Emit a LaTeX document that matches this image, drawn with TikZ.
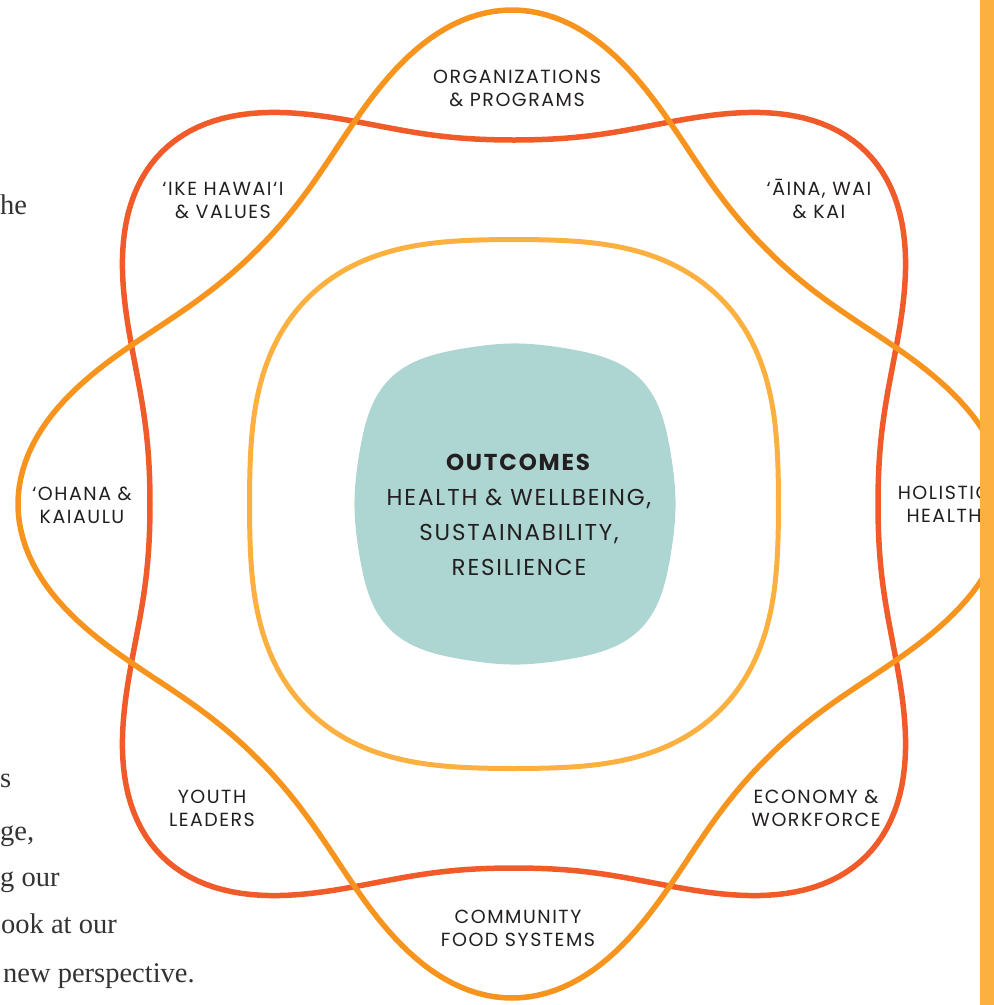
\documentclass[tikz,border=0pt]{standalone}
\usepackage{fontspec}
\setmainfont{Poppins}[LetterSpace=8]
\newfontfamily\bodyserif{Liberation Serif}
\definecolor{ink}{HTML}{231F20}
\definecolor{bodygray}{HTML}{333333}
\definecolor{redline}{HTML}{F15A29}
\definecolor{orangeline}{HTML}{F7941D}
\definecolor{innerline}{HTML}{FBB040}
\definecolor{tealfill}{HTML}{ADD5D2}
\definecolor{barcol}{HTML}{FBB040}
\tikzset{
  lbl/.style={font=\fontsize{19}{23}\selectfont, text=ink, align=center, anchor=base, inner sep=0pt},
  ctr/.style={font=\fontsize{23}{35}\selectfont, text=ink, align=center, anchor=base, inner sep=0pt},
  bodytxt/.style={font=\bodyserif\fontsize{28.5}{47}\selectfont, text=bodygray, anchor=base west, inner sep=0pt},
  ring/.style={line width=5.5pt, line join=round}
}
\begin{document}
\begin{tikzpicture}[x=1pt,y=-1pt]
\useasboundingbox (0,0) rectangle (994,1005);
\clip (0,0) rectangle (994,1005);
% centre teal shape
\fill[tealfill] plot[domain=0:360, samples=241]
  ({515+(167.4-8.25*cos(4*\x)+1.4*cos(8*\x))*cos(\x)},
   {504+(167.4-8.25*cos(4*\x)+1.4*cos(8*\x))*sin(\x)}) -- cycle;
% inner light orange ring
\draw[ring, innerline, line width=5pt] plot[domain=0:360, samples=241]
  ({514+(278-13.5*cos(4*\x))*cos(\x)},
   {504+(278-13.5*cos(4*\x))*sin(\x)}) -- cycle;
% red four-cornered loop
\draw[ring, redline] plot[domain=0:360, samples=361]
  ({514+(422.5-67*cos(4*\x)+8.5*cos(8*\x))*cos(\x)},
   {504+(422.5-67*cos(4*\x)+8.5*cos(8*\x))*sin(\x)}) -- cycle;
% orange four-petal loop
\draw[ring, orangeline] plot[domain=0:360, samples=361]
  ({512+(420+67*cos(4*\x)+7*cos(8*\x))*cos(\x)},
   {504+(420+67*cos(4*\x)+7*cos(8*\x))*sin(\x)}) -- cycle;
% labels (anchor = baseline of the last line)
\node[lbl] (org) at (517,106) {ORGANIZATIONS\\\& PROGRAMS};
\node[lbl] (ike) at (223,218) {‘IKE HAWAI‘I\\\& VALUES};
\node[lbl] (aina) at (819,218) {‘ĀINA, WAI\\\& KAI};
\node[lbl] (ohana) at (82,523) {‘OHANA \&\\KAIAULU};
\node[lbl] (holistic) at (944,522) {HOLISTIC\\HEALTH};
\node[lbl] (youth) at (212,826) {YOUTH\\LEADERS};
\node[lbl] (economy) at (816,826) {ECONOMY \&\\WORKFORCE};
\node[lbl] (community) at (518,946) {COMMUNITY\\FOOD SYSTEMS};
\node[ctr] (outcomes) at (519,575) {\textbf{OUTCOMES}\\HEALTH \& WELLBEING,\\SUSTAINABILITY,\\RESILIENCE};
% body text of the neighbouring column
\node[bodytxt] (t1) at (0,214) {he};
\node[bodytxt] (t2) at (0,787) {s};
\node[bodytxt] (t3) at (0,840) {ge,};
\node[bodytxt] (t4) at (0,886) {g our};
\node[bodytxt] (t5) at (1,933) {ook at our};
\node[bodytxt] (t6) at (3,982) {new perspective.};
% right bar
\fill[barcol] (980,0) rectangle (994,1005);
\end{tikzpicture}
\end{document}
